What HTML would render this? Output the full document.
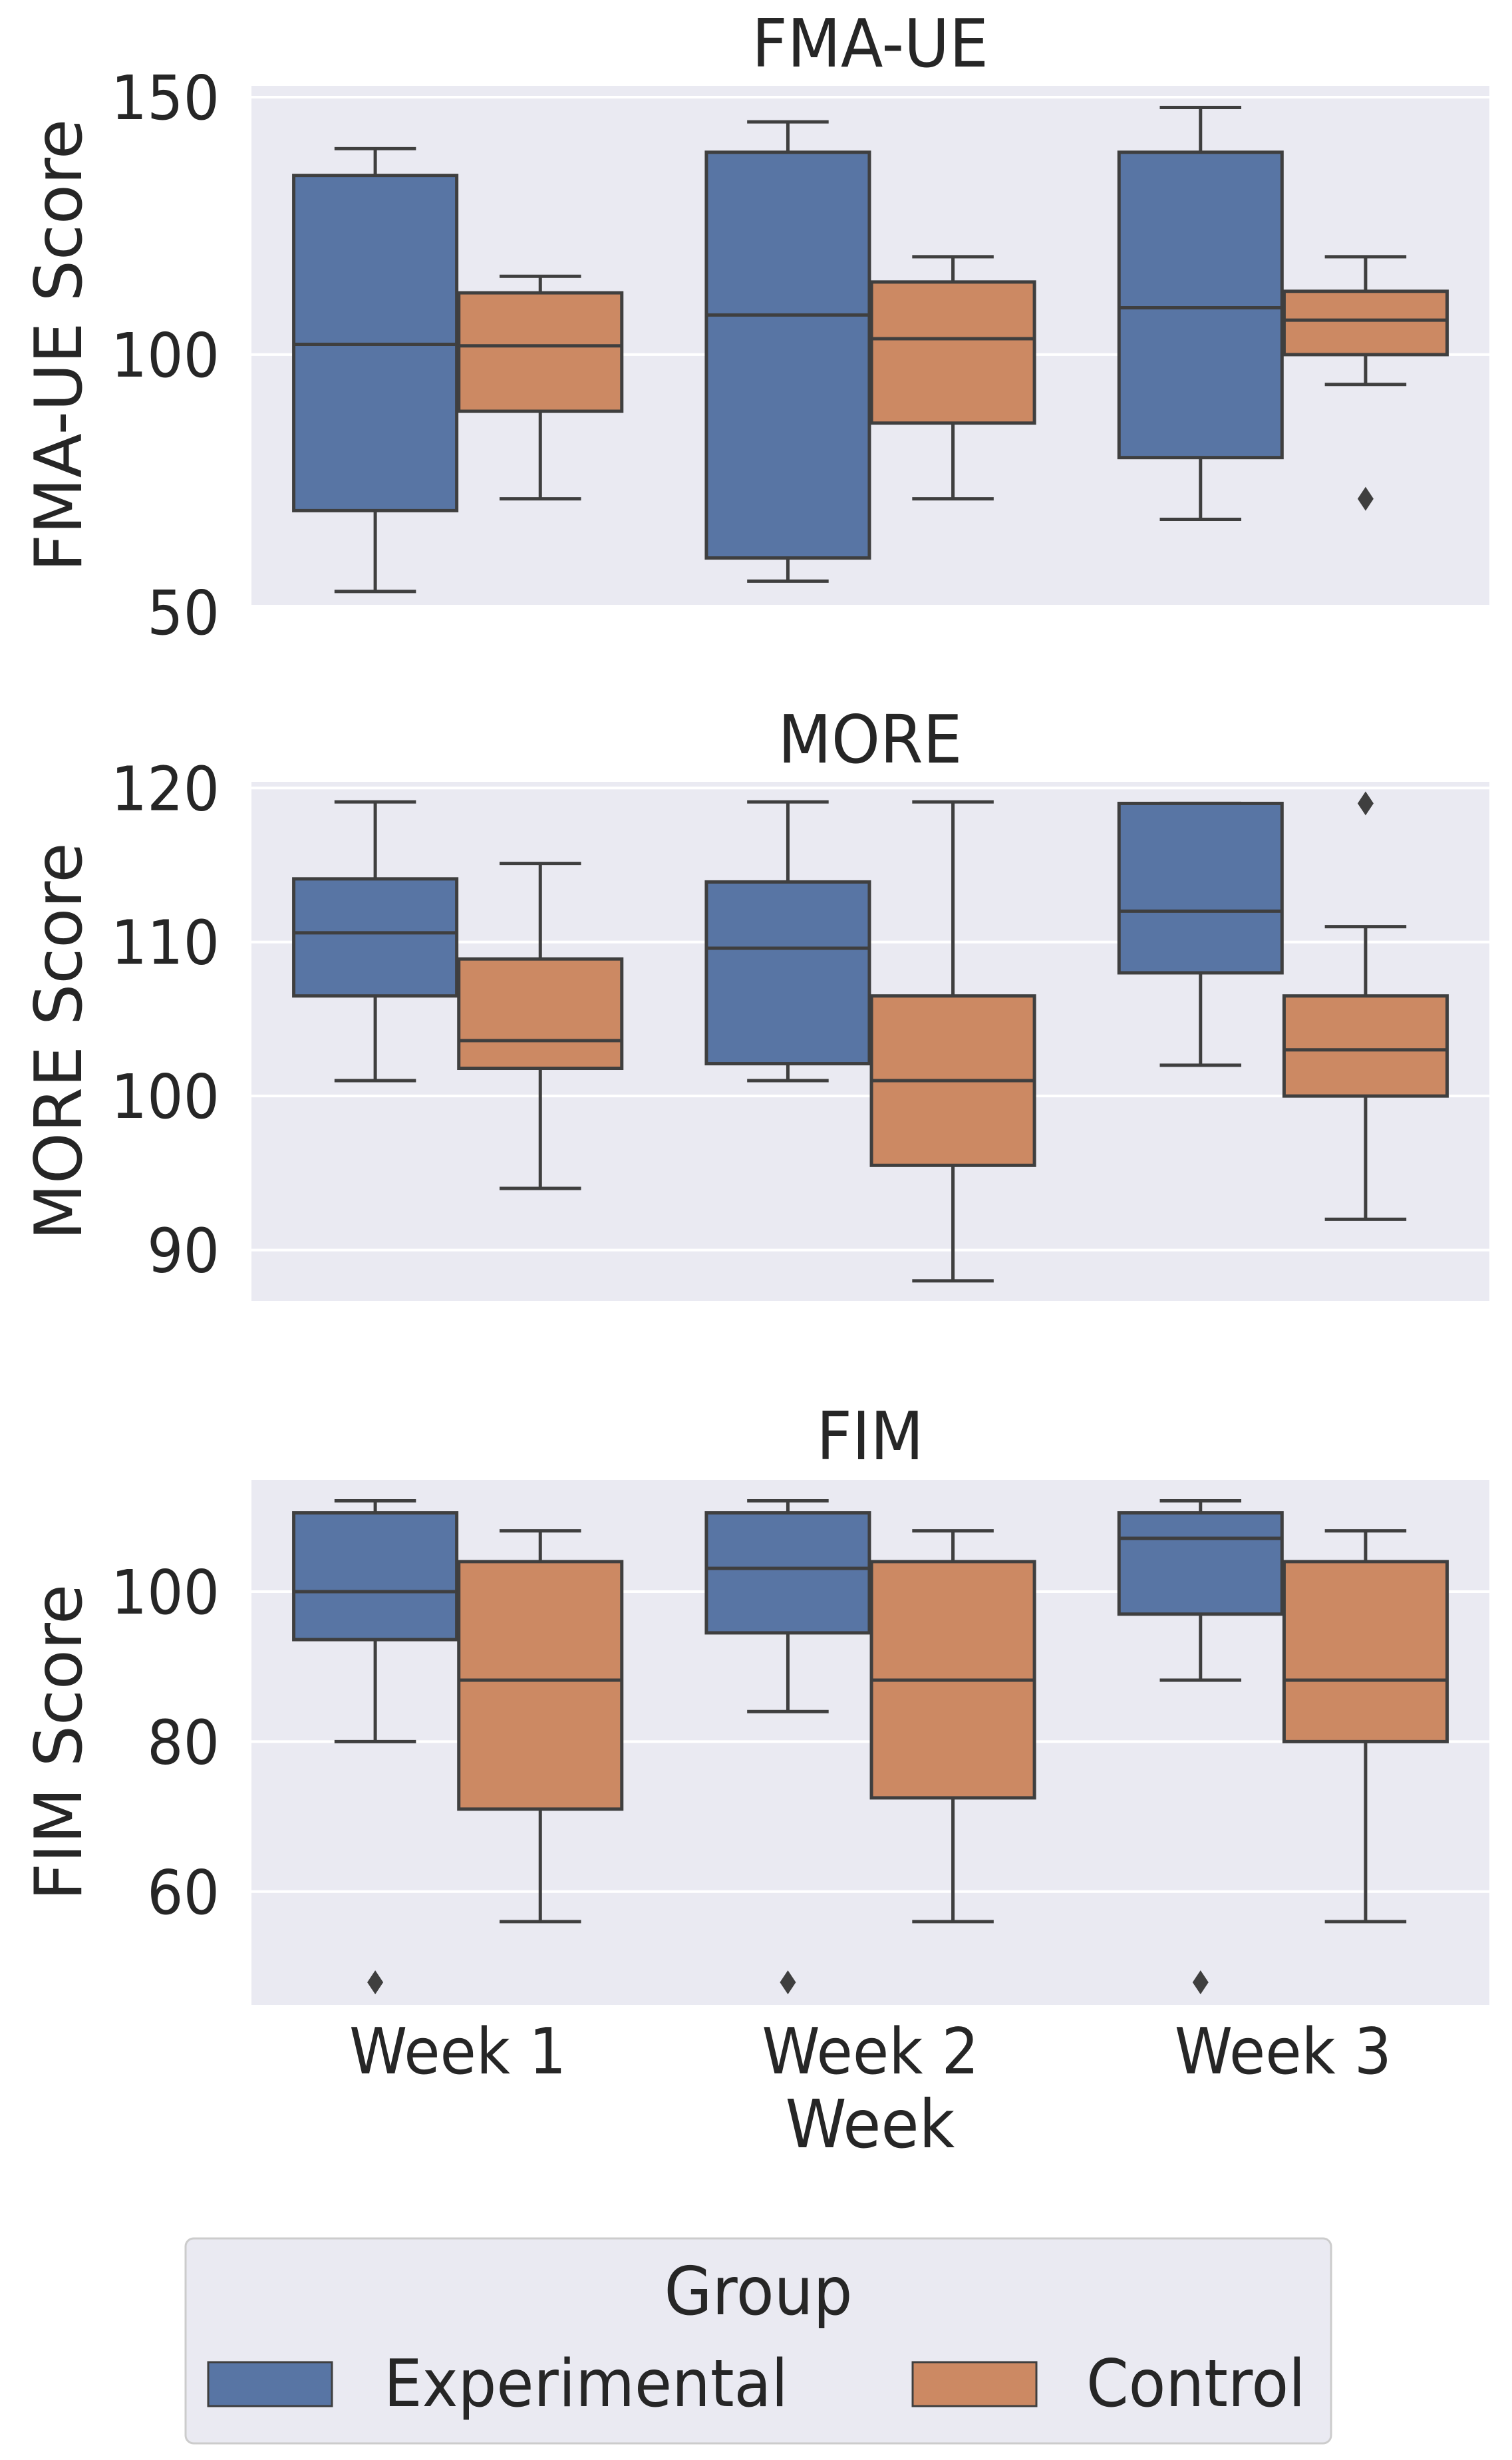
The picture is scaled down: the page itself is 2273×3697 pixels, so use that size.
<!DOCTYPE html>
<html><head><meta charset="utf-8"><style>
html,body{margin:0;padding:0;background:#fff;}
svg{display:block;}
text{font-family:"DejaVu Sans","Liberation Sans",sans-serif;fill:#262626;}
</style></head>
<body>
<svg id="chart" width="2273" height="3697" viewBox="0 0 2273 3697" xmlns="http://www.w3.org/2000/svg"></svg>
<script>
// ---- data ----
const categories = ["Week 1", "Week 2", "Week 3"];
const groups = ["Experimental", "Control"];
const panelTitles = ["FMA-UE", "MORE", "FIM"];
const panelYLabels = ["FMA-UE Score", "MORE Score", "FIM Score"];
// [low whisker, Q1, median, Q3, high whisker] per week
const fmaExp = [[54, 69.7, 102, 134.8, 140], [56, 60.5, 107.7, 139.3, 145.2], [68, 80, 109.1, 139.3, 148]];
const fmaCtrl = [[72, 89, 101.7, 112, 115.2], [72, 86.7, 103.1, 114.1, 119], [94.2, 100, 106.7, 112.3, 119]];
const moreExp = [[101, 106.5, 110.6, 114.1, 119.1], [101, 102.1, 109.6, 113.9, 119.1], [102, 108, 112, 119, 119]];
const moreCtrl = [[94, 101.8, 103.6, 108.9, 115.1], [88, 95.5, 101, 106.5, 119.1], [92, 100, 103, 106.5, 111]];
const fimExp = [[80, 93.6, 100, 110.5, 112.1], [84, 94.5, 103.1, 110.5, 112.1], [88.2, 97, 107.1, 110.5, 112.1]];
const fimCtrl = [[56, 71, 88.2, 104, 108.1], [56, 72.5, 88.2, 104, 108.1], [56, 80, 88.2, 104, 108.1]];
// outliers: [weekIndex, groupIndex, value]
const fmaOutliers = [[2, 1, 72]];
const moreOutliers = [[2, 1, 119]];
const fimOutliers = [[0, 0, 47.9], [1, 0, 47.9], [2, 0, 47.9]];
const fmaTicks = [50, 100, 150];
const moreTicks = [90, 100, 110, 120];
const fimTicks = [60, 80, 100];
const fmaLim = [51.4, 152.2];
const moreLim = [86.7, 120.4];
const fimLim = [44.9, 114.9];

const NS = "http://www.w3.org/2000/svg";
const svg = document.getElementById("chart");
function mk(tag, attrs, parent) {
  const e = document.createElementNS(NS, tag);
  for (const k in attrs) e.setAttribute(k, attrs[k]);
  (parent || svg).appendChild(e);
  return e;
}
const X0 = 378, X1 = 2239;
const colors = ["#5875a4", "#cc8963"];
const lineC = "#3f3f3f";
const panels = [
  {top: 129, bottom: 909, lim: fmaLim, ticks: fmaTicks, exp: fmaExp, ctrl: fmaCtrl, out: fmaOutliers, titleY: 100, name: "fma-ue"},
  {top: 1175, bottom: 1955, lim: moreLim, ticks: moreTicks, exp: moreExp, ctrl: moreCtrl, out: moreOutliers, titleY: 1146, name: "more"},
  {top: 2224, bottom: 3013, lim: fimLim, ticks: fimTicks, exp: fimExp, ctrl: fimCtrl, out: fimOutliers, titleY: 2193, name: "fim"}
];
const catW = (X1 - X0) / categories.length;
function xCenter(i) { return X0 + (i + 0.5) * catW; }
function xBox(i, g) { return xCenter(i) + (g === 0 ? -0.2 : 0.2) * catW; }
const boxW = 0.395 * catW;

panels.forEach((p, pi) => {
  const yS = v => p.bottom - (v - p.lim[0]) / (p.lim[1] - p.lim[0]) * (p.bottom - p.top);
  const g = mk("g", {});
  
  
  const bg = mk("rect", {x: X0, y: p.top, width: X1 - X0, height: p.bottom - p.top, fill: "#eaeaf2"}, g);
  
  
  p.ticks.forEach(t => {
    const y = yS(t);
    const gl = mk("line", {x1: X0, x2: X1, y1: y, y2: y, stroke: "#fff", "stroke-width": 4}, g);
    
    
    const tl = mk("text", {transform: `translate(330,${y + 33}) scale(0.93,1)`, "font-size": 92, "text-anchor": "end"}, g);
    tl.textContent = t;
    
    
  });
  const title = mk("text", {transform: `translate(1308,${p.titleY}) scale(0.93,1)`, "font-size": 100, "text-anchor": "middle"}, g);
  title.textContent = panelTitles[pi];
  
  
  const yl = mk("text", {transform: `translate(122,${(p.top + p.bottom) / 2}) rotate(-90)`, "font-size": 98, "text-anchor": "middle"}, g);
  yl.textContent = panelYLabels[pi];
  
  
  [p.exp, p.ctrl].forEach((series, gi) => {
    series.forEach((s, i) => {
      const cx = xBox(i, gi);
      const bx = mk("g", {}, g);
      
      
      const st = {stroke: lineC, "stroke-width": 5};
      mk("line", Object.assign({x1: cx, x2: cx, y1: yS(s[0]), y2: yS(s[1])}, st), bx);
      mk("line", Object.assign({x1: cx, x2: cx, y1: yS(s[3]), y2: yS(s[4])}, st), bx);
      mk("line", Object.assign({x1: cx - boxW / 4, x2: cx + boxW / 4, y1: yS(s[0]), y2: yS(s[0])}, st), bx);
      mk("line", Object.assign({x1: cx - boxW / 4, x2: cx + boxW / 4, y1: yS(s[4]), y2: yS(s[4])}, st), bx);
      mk("rect", Object.assign({x: cx - boxW / 2, y: yS(s[3]), width: boxW, height: Math.max(1, yS(s[1]) - yS(s[3])), fill: colors[gi]}, st), bx);
      mk("line", Object.assign({x1: cx - boxW / 2, x2: cx + boxW / 2, y1: yS(s[2]), y2: yS(s[2])}, st), bx);
    });
  });
  p.out.forEach(o => {
    const cx = xBox(o[0], o[1]), cy = yS(o[2]);
    const d = mk("polygon", {points: `${cx},${cy - 18} ${cx + 12},${cy} ${cx},${cy + 18} ${cx - 12},${cy}`, fill: lineC}, g);
    
    
  });
});

categories.forEach((c, i) => {
  const t = mk("text", {transform: `translate(${xCenter(i)},3116) scale(0.93,1)`, "font-size": 95, "text-anchor": "middle"});
  t.textContent = c;
  
  
});
const xt = mk("text", {transform: `translate(1308,3227) scale(0.93,1)`, "font-size": 100, "text-anchor": "middle"});
xt.textContent = "Week";



// legend
const lg = mk("g", {});


mk("rect", {x: 279, y: 3364, width: 1722, height: 308, rx: 12, fill: "#eaeaf2", stroke: "#cccccc", "stroke-width": 3}, lg);
const lt = mk("text", {transform: `translate(1140,3478) scale(0.93,1)`, "font-size": 100, "text-anchor": "middle"}, lg);
lt.textContent = "Group";


const legendX = [[313, 577], [1372, 1633]];
groups.forEach((gname, gi) => {
  const e = mk("g", {}, lg);
  
  
  mk("rect", {x: legendX[gi][0], y: 3550, width: 186, height: 66, fill: colors[gi], stroke: lineC, "stroke-width": 3}, e);
  const tt = mk("text", {transform: `translate(${legendX[gi][1]},3616) scale(0.93,1)`, "font-size": 98}, e);
  tt.textContent = gname;
});
</script>
</body></html>
